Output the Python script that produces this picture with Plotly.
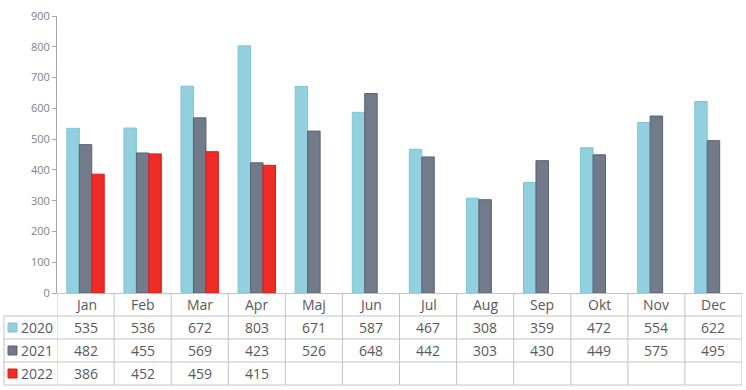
import plotly.graph_objects as go

months = ["Jan", "Feb", "Mar", "Apr", "Maj", "Jun", "Jul", "Aug", "Sep", "Okt", "Nov", "Dec"]
years = ["2020", "2021", "2022"]
v2020 = [535, 536, 672, 803, 671, 587, 467, 308, 359, 472, 554, 622]
v2021 = [482, 455, 569, 423, 526, 648, 442, 303, 430, 449, 575, 495]
v2022 = [386, 452, 459, 415, None, None, None, None, None, None, None, None]

series = [v2020, v2021, v2022]
fills = ["#93d0df", "#727b89", "#ee2b24"]
edges = ["#7fc4d6", "#5a6170", "#d81e18"]

W, H = 746, 390
L, R, T, B = 57, 4, 16, 97
PW = W - L - R
PH = H - T - B
TABLE_LEFT = 4
TEXT = "#595959"
GRID = "#c3c3c3"
FONT = "Open Sans"


def px_x(p):
    return (p - L) / PW


def px_y(p):
    return (H - B - p) / PH


fig = go.Figure()
for name, vals, fc, ec in zip(years, series, fills, edges):
    fig.add_trace(go.Bar(
        x=months, y=vals, name=name,
        marker=dict(color=fc, line=dict(color=ec, width=1)),
    ))

shapes = []
row_lines = [316, 339, 362, 385]
for yy in row_lines:
    shapes.append(dict(type="line", xref="paper", yref="paper",
                       x0=px_x(TABLE_LEFT), x1=1, y0=px_y(yy), y1=px_y(yy),
                       line=dict(color=GRID, width=1)))
shapes.append(dict(type="line", xref="paper", yref="paper",
                   x0=px_x(TABLE_LEFT), x1=px_x(TABLE_LEFT), y0=px_y(316), y1=px_y(385),
                   line=dict(color=GRID, width=1)))
for k in range(len(months) + 1):
    shapes.append(dict(type="line", xref="x", yref="paper",
                       x0=k - 0.5, x1=k - 0.5, y0=0, y1=px_y(385),
                       line=dict(color=GRID, width=1)))

row_centers = [327.5, 350.5, 373.5]
for rc, fc, ec in zip(row_centers, fills, edges):
    shapes.append(dict(type="rect", xref="paper", yref="paper",
                       x0=px_x(8), x1=px_x(17), y0=px_y(rc + 4.5), y1=px_y(rc - 4.5),
                       fillcolor=fc, line=dict(color=ec, width=1)))

annotations = []
for m in months:
    annotations.append(dict(x=m, y=px_y(304.5), xref="x", yref="paper", text=m,
                            showarrow=False, font=dict(size=14, color=TEXT, family=FONT),
                            xanchor="center", yanchor="middle"))
for name, vals, rc in zip(years, series, row_centers):
    annotations.append(dict(x=px_x(37), y=px_y(rc), xref="paper", yref="paper", text=name,
                            showarrow=False, font=dict(size=14, color=TEXT, family=FONT),
                            xanchor="center", yanchor="middle"))
    for m, v in zip(months, vals):
        if v is None:
            continue
        annotations.append(dict(x=m, y=px_y(rc), xref="x", yref="paper", text=str(v),
                                showarrow=False, font=dict(size=14, color=TEXT, family=FONT),
                                xanchor="center", yanchor="middle"))

fig.update_layout(
    template="none",
    width=W, height=H,
    margin=dict(l=L, r=R, t=T, b=B, pad=0),
    paper_bgcolor="white", plot_bgcolor="white",
    barmode="group", bargap=0.345, bargroupgap=0,
    showlegend=False,
    font=dict(family=FONT, color=TEXT),
    xaxis=dict(showticklabels=False, ticks="", showline=True, linecolor=GRID,
               linewidth=1, showgrid=False, zeroline=False, range=[-0.5, 11.5],
               automargin=False),
    yaxis=dict(range=[0, 900], dtick=100, showgrid=False, zeroline=False,
               showline=True, linecolor="#a6a6a6", linewidth=1,
               ticks="outside", ticklen=4, tickcolor="#a6a6a6", automargin=False,
               tickfont=dict(size=11, color="#7f7f7f", family=FONT)),
    shapes=shapes,
    annotations=annotations,
)

fig.write_html("out.html", config={"displayModeBar": False},
               post_script="document.body.style.margin='0';document.body.style.padding='0';")
